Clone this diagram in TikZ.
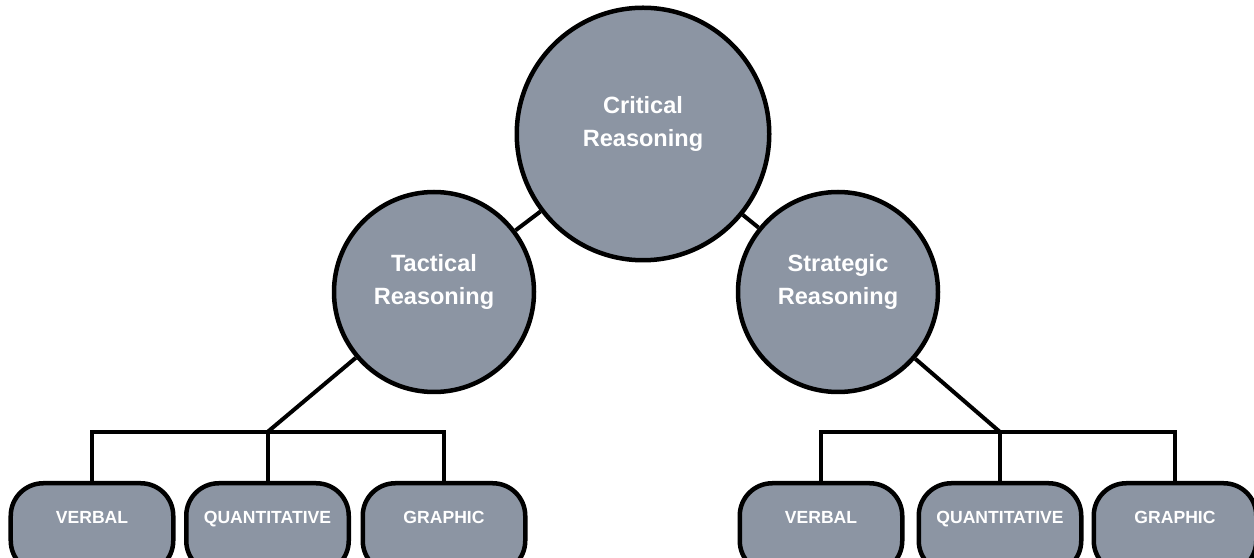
\documentclass[tikz,border=0pt]{standalone}
\usepackage{fontspec}
\setmainfont{Liberation Sans}
\usetikzlibrary{positioning}
\definecolor{nodegray}{RGB}{140,149,163}

\begin{document}
\begin{tikzpicture}[
  reason/.style={circle, draw, line width=0.09cm, fill=nodegray, minimum size=#1, inner sep=0pt},
  reasontext/.style={text=white, align=center, yshift=0.2cm, font=\bfseries\fontsize{13.4}{18.8}\selectfont},
  skill/.style={draw, line width=0.09cm, fill=nodegray, rounded corners=0.65cm,
    minimum width=3.25cm, inner xsep=0pt, inner ysep=0pt, text height=0.8cm, text depth=1cm,
    anchor=north, text=white, font=\bfseries\fontsize{10}{12}\selectfont},
  link/.style={line width=0.08cm}
]
\useasboundingbox (0,0) rectangle (25.08,11.14);
\node[reason=5.05cm, label={[reasontext]center:Critical\\Reasoning}] (crit) at (12.86,8.46) {};
\node[reason=4cm, label={[reasontext]center:Tactical\\Reasoning}] (tac) at (8.68,5.30) {};
\node[reason=4cm, label={[reasontext]center:Strategic\\Reasoning}] (str) at (16.76,5.30) {};
% tactical side
\node[skill] (lv) at (1.84,1.52) {VERBAL};
\node[skill, right=0.17cm of lv] (lq) {QUANTITATIVE};
\node[skill, right=0.19cm of lq] (lg) {GRAPHIC};
% strategic side
\node[skill] (rv) at (16.42,1.52) {VERBAL};
\node[skill, right=0.24cm of rv] (rq) {QUANTITATIVE};
\node[skill, right=0.16cm of rq] (rg) {GRAPHIC};
\coordinate (jl) at ([yshift=0.98cm]lq.north);
\coordinate (jr) at ([yshift=0.98cm]rq.north);
\draw[link] (tac) -- (crit);
\draw[link] (crit) -- (str);
\draw[link] (tac) -- (jl);
\draw[link] (str) -- (jr);
\draw[link] (lv.north) |- (jl) -| (lg.north);
\draw[link] (jl) -- (lq.north);
\draw[link] (rv.north) |- (jr) -| (rg.north);
\draw[link] (jr) -- (rq.north);
\end{tikzpicture}
\end{document}
